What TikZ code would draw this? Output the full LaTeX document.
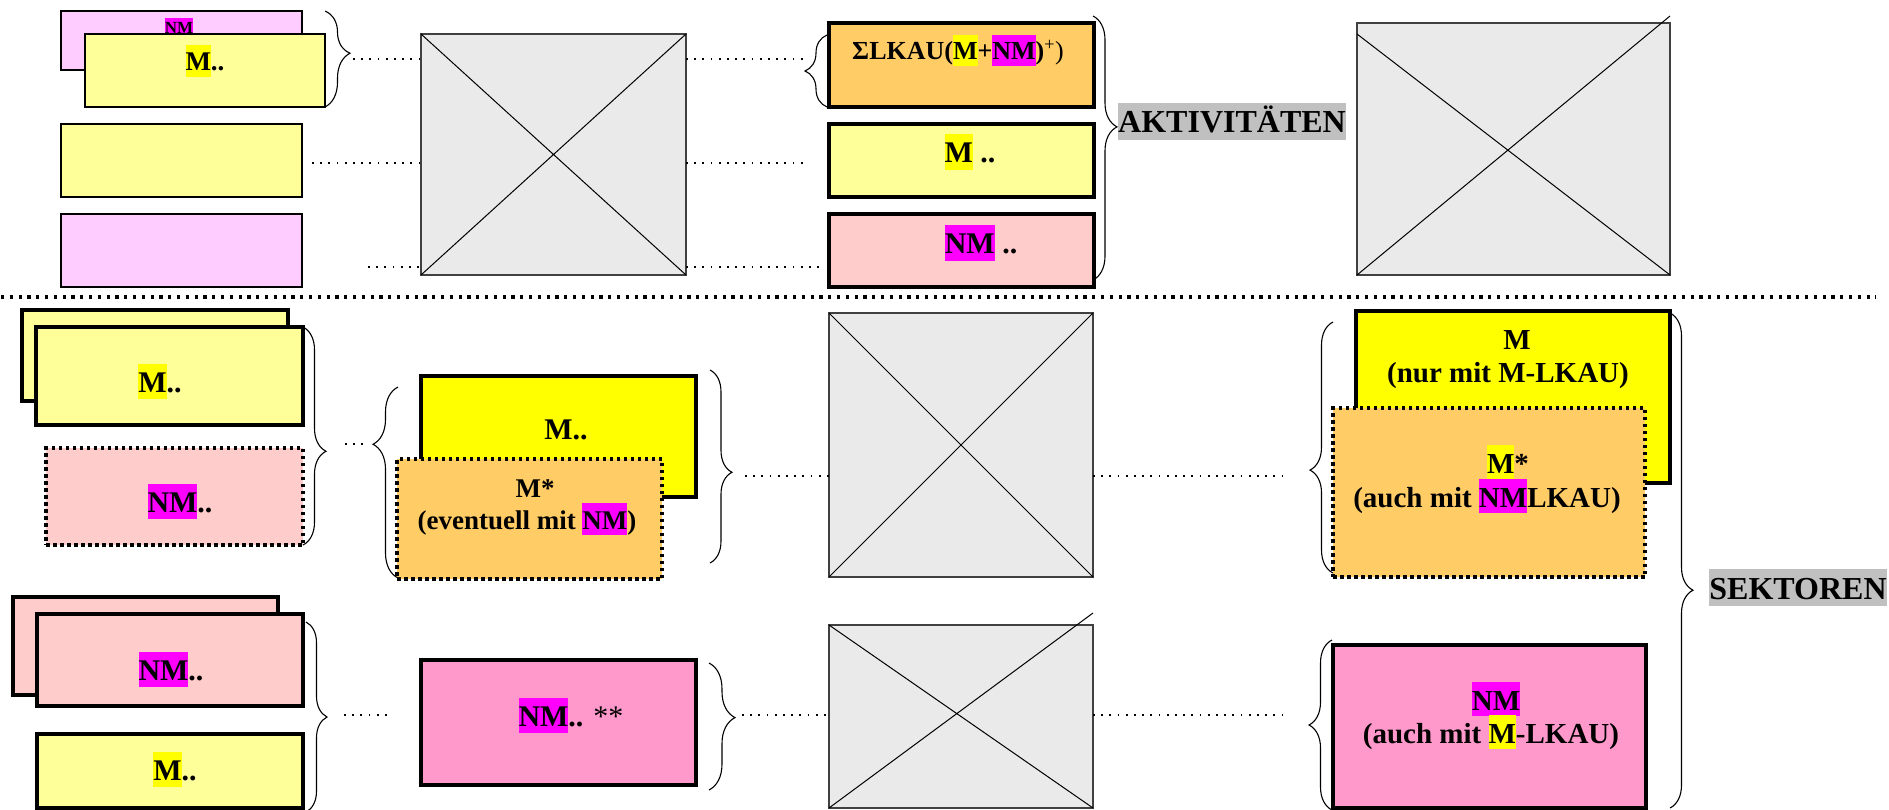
\documentclass[tikz,border=0pt]{standalone}
\usepackage{fontspec}
\setmainfont{Liberation Serif}
\usetikzlibrary{decorations.pathreplacing}
\definecolor{lpink}{HTML}{FFCCFF}
\definecolor{lyel}{HTML}{FFFF99}
\definecolor{orng}{HTML}{FFCC66}
\definecolor{salm}{HTML}{FFCCCC}
\definecolor{byel}{HTML}{FFFF00}
\definecolor{pnk}{HTML}{FF99CC}
\definecolor{mag}{HTML}{FF00FF}
\definecolor{gbox}{HTML}{EAEAEA}
\definecolor{lbl}{HTML}{C0C0C0}
\newcommand{\hl}[2]{{\setlength{\fboxsep}{0pt}\colorbox{#1}{\rule[-0.22em]{0pt}{1.17em}#2}}}
\newcommand{\fsz}[1]{\fontsize{#1}{#1}\selectfont}
\newcommand{\bx}[6]{\node[#2, minimum width={(#5)-(#3)}, minimum height={(#6)-(#4)}] (#1) at ({((#3)+(#5))/2},{((#4)+(#6))/2}) {};}
\tikzset{
  thinbox/.style={draw=black, line width=2pt, rectangle, inner sep=0pt, outer sep=0pt},
  thickbox/.style={draw=black, line width=4pt, rectangle, inner sep=0pt, outer sep=0pt},
  dotbox/.style={draw=black, line width=3.5pt, dash pattern=on 3.5pt off 3.5pt, rectangle, inner sep=0pt, outer sep=0pt},
  xbox/.style={draw=black!75, line width=1.5pt, fill=gbox, rectangle, inner sep=0pt, outer sep=0pt},
  xline/.style={line width=1pt, draw=black},
  conn/.style={line width=1.7pt, dash pattern=on 1.7pt off 6.5pt},
  sepline/.style={line width=3.2pt, dash pattern=on 3.2pt off 5.6pt},
  brc/.style={decorate, line width=1.1pt},
  txt/.style={inner sep=0pt, anchor=base},
}
\begin{document}
\begin{tikzpicture}[x=1pt,y=-1pt]
\useasboundingbox (0,0) rectangle (1889,810);
\fill[white] (0,0) rectangle (1889,810);

% separator
\coordinate (sepL) at (1,297);
\coordinate (sepR) at (1876,297);
\draw[sepline] (sepL) -- (sepR);

% ---------- top section ----------
\bx{A0}{thinbox, fill=lpink}{61}{11}{302}{70}
\node[txt, font=\bfseries\fsz{17}] (tA0) at (179,34) {\hl{mag}{NM}};
\bx{A1}{thinbox, fill=lyel}{85}{34}{325}{107}
\node[txt, font=\bfseries\fsz{27}] (tA1) at (205,71) {\hl{byel}{M}..};
\bx{A2}{thinbox, fill=lyel}{61}{124}{302}{197}
\bx{A3}{thinbox, fill=lpink}{61}{214}{302}{287}

\bx{G1}{xbox}{421}{34}{686}{275}
\draw[xline] (G1.north west) -- (G1.south east) (G1.south west) -- (G1.north east);

\bx{B1}{thickbox, fill=orng}{829}{23}{1094}{107}
\node[txt, font=\bfseries\fsz{26}] (tB1) at (958,60) {ΣLKAU(\hl{byel}{M}+\hl{mag}{NM})\textsuperscript{\mdseries +}{\mdseries)}};
\bx{B2}{thickbox, fill=lyel}{829}{124}{1094}{197}
\node[txt, font=\bfseries\fsz{30}] (tB2) at (970,163) {\hl{byel}{M} ..};
\bx{B3}{thickbox, fill=salm}{829}{214}{1094}{287}
\node[txt, font=\bfseries\fsz{30}] (tB3) at (981,254) {\hl{mag}{NM} ..};

\node[txt, font=\bfseries\fsz{32}] (akt) at (1232,133) {\hl{lbl}{AKTIVITÄTEN}};

\bx{G2}{xbox}{1357}{23}{1670}{275}
\coordinate (g2a) at (1357,34);
\coordinate (g2b) at (1670,16);
\draw[xline] (g2a) -- (G2.south east) (G2.south west) -- (g2b);

% top braces
\draw[brc, decoration={brace, amplitude=25pt, aspect=0.44}] (325,11) -- (325,107);
\draw[brc, decoration={brace, amplitude=22pt, aspect=0.5}] (827,107) -- (827,35);
\draw[brc, decoration={brace, amplitude=24pt, aspect=0.42}] (1093,16) -- (1093,280);

% top connectors
\coordinate (c1) at (353,59);
\coordinate (c2) at (312,163);
\coordinate (c3) at (368,267);
\draw[conn] (c1) -- (c1 -| G1.west);
\draw[conn] (c2) -- (c2 -| G1.west);
\draw[conn] (c3) -- (c3 -| G1.west);
\coordinate (c4) at (807,59);
\coordinate (c5) at (807,163);
\coordinate (c6) at (825,267);
\draw[conn] (c4 -| G1.east) -- (c4);
\draw[conn] (c5 -| G1.east) -- (c5);
\draw[conn] (c6 -| G1.east) -- (c6);

% ---------- lower section ----------
\bx{C0}{thickbox, fill=lyel}{22}{310}{288}{401}
\bx{C1}{thickbox, fill=lyel}{36}{327}{303}{425}
\node[txt, font=\bfseries\fsz{30}] (tC1) at (160,392) {\hl{byel}{M}..};
\bx{C2}{dotbox, fill=salm}{46}{448}{303}{545}
\node[txt, font=\bfseries\fsz{30}] (tC2) at (180,512) {\hl{mag}{NM}..};

\bx{D1}{thickbox, fill=byel}{421}{376}{696}{497}
\node[txt, font=\bfseries\fsz{30}] (tD1) at (566,439) {M..};
\bx{D2}{dotbox, fill=orng}{397}{459}{662}{579}
\node[txt, font=\bfseries\fsz{27}] (tD2a) at (535,497) {M*};
\node[txt, font=\bfseries\fsz{27}] (tD2b) at (527,529) {(eventuell mit \hl{mag}{NM})};

\bx{G3}{xbox}{829}{313}{1093}{577}
\draw[xline] (G3.north west) -- (G3.south east) (G3.south west) -- (G3.north east);

\bx{E1}{thickbox, fill=byel}{1356}{311}{1670}{483}
\node[txt, font=\bfseries\fsz{29}] (tE1a) at (1517,349) {M};
\node[txt, font=\bfseries\fsz{29}] (tE1b) at (1508,382) {(nur mit M-LKAU)};
\bx{E2}{dotbox, fill=orng}{1333}{408}{1645}{577}
\node[txt, font=\bfseries\fsz{29}] (tE2a) at (1508,473) {\hl{byel}{M}*};
\node[txt, font=\bfseries\fsz{29}] (tE2b) at (1487,507) {(auch mit \hl{mag}{NM}LKAU)};

\bx{F0}{thickbox, fill=salm}{13}{597}{278}{695}
\bx{F1}{thickbox, fill=salm}{37}{614}{303}{706}
\node[txt, font=\bfseries\fsz{30}] (tF1) at (171,680) {\hl{mag}{NM}..};
\bx{F2}{thickbox, fill=lyel}{37}{734}{303}{808}
\node[txt, font=\bfseries\fsz{30}] (tF2) at (175,780) {\hl{byel}{M}..};

\bx{H}{thickbox, fill=pnk}{421}{660}{696}{785}
\node[txt, font=\bfseries\fsz{30}] (tH) at (571,726) {\hl{mag}{NM}.. {\mdseries **}};

\bx{G4}{xbox}{829}{625}{1093}{808}
\coordinate (g4b) at (1093,613);
\draw[xline] (G4.north west) -- (G4.south east) (G4.south west) -- (g4b);

\bx{I}{thickbox, fill=pnk}{1333}{645}{1646}{808}
\node[txt, font=\bfseries\fsz{29}] (tIa) at (1496,710) {\hl{mag}{NM}};
\node[txt, font=\bfseries\fsz{29}] (tIb) at (1491,743) {(auch mit \hl{byel}{M}-LKAU)};

\node[txt, font=\bfseries\fsz{32}] (sek) at (1798,599) {\hl{lbl}{SEKTOREN}};

% lower braces
\draw[brc, decoration={brace, amplitude=23pt, aspect=0.57}] (303,327) -- (303,545);
\draw[brc, decoration={brace, amplitude=25pt, aspect=0.70}] (398,578) -- (398,387);
\draw[brc, decoration={brace, amplitude=22pt, aspect=0.53}] (710,370) -- (710,563);
\draw[brc, decoration={brace, amplitude=23pt, aspect=0.41}] (1333,573) -- (1333,322);
\draw[brc, decoration={brace, amplitude=21pt, aspect=0.5}] (306,622) -- (306,812);
\draw[brc, decoration={brace, amplitude=26pt, aspect=0.43}] (709,663) -- (709,790);
\draw[brc, decoration={brace, amplitude=23pt, aspect=0.5}] (1332,810) -- (1332,640);
\draw[brc, decoration={brace, amplitude=23pt, aspect=0.56}] (1670,313) -- (1670,808);

% lower connectors
\coordinate (c7a) at (345,444);
\coordinate (c7b) at (368,444);
\draw[conn] (c7a) -- (c7b);
\coordinate (c8) at (745,476);
\draw[conn] (c8) -- (c8 -| G3.west);
\coordinate (c9) at (1288,476);
\draw[conn] (c9 -| G3.east) -- (c9);
\coordinate (c10a) at (344,715);
\coordinate (c10b) at (393,715);
\draw[conn] (c10a) -- (c10b);
\coordinate (c11) at (742,715);
\draw[conn] (c11) -- (c11 -| G4.west);
\coordinate (c12) at (1289,715);
\draw[conn] (c12 -| G4.east) -- (c12);
\end{tikzpicture}
\end{document}
